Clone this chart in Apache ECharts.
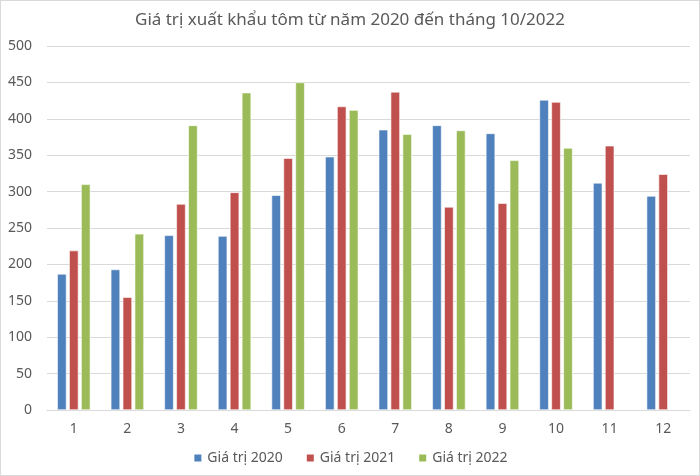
<!DOCTYPE html>
<html><head><meta charset="utf-8">
<script src="https://cdn.jsdelivr.net/npm/echarts@6/dist/echarts.min.js"></script>
<style>html,body{margin:0;padding:0;background:#fff}#c{width:700px;height:476px;box-sizing:border-box;border:1px solid #d9d9d9}</style>
</head><body><div id="c"></div>
<script>
var categories = ['1','2','3','4','5','6','7','8','9','10','11','12'];
var v2020 = [187,193,240,239,295,348,385,391,380,426,312,294];
var v2021 = [219,155,283,299,346,417,437,279,284,423,363,324];
var v2022 = [310,242,391,436,450,412,379,384,343,360,null,null];
var seriesNames = ['Giá trị 2020','Giá trị 2021','Giá trị 2022'];
var colors = ['#4F81BD','#C0504D','#9BBB59'];
var font = '"Noto Sans", "Open Sans", sans-serif';
var chart = echarts.init(document.getElementById('c'));
function mk(name, data, color){
  return {name:name, type:'bar', data:data, barGap:'28%', barCategoryGap:'38%',
    itemStyle:{color:color, borderColor:'#ffffff', borderWidth:0.6}};
}
chart.setOption({
  animation:false,
  color:colors,
  textStyle:{fontFamily:font},
  title:{text:'Giá trị xuất khẩu tôm từ năm 2020 đến tháng 10/2022', left:'center', top:6,
    textStyle:{fontFamily:font, fontSize:17, fontWeight:'normal', color:'#595959'}},
  legend:{bottom:5, itemWidth:9, itemHeight:9, itemGap:22, icon:'rect',
    textStyle:{fontFamily:font, fontSize:14, color:'#595959'}},
  grid:{left:46, right:9, top:45, bottom:65},
  xAxis:{type:'category', data:categories,
    axisLine:{lineStyle:{color:'#d9d9d9'}}, axisTick:{show:false},
    axisLabel:{color:'#595959', fontSize:14, margin:12, fontFamily:font}},
  yAxis:{type:'value', min:0, max:500, interval:50,
    axisLine:{show:false}, axisTick:{show:false},
    splitLine:{lineStyle:{color:'#d9d9d9'}},
    axisLabel:{color:'#595959', fontSize:14, margin:15, fontFamily:font}},
  series:[mk(seriesNames[0], v2020, colors[0]), mk(seriesNames[1], v2021, colors[1]), mk(seriesNames[2], v2022, colors[2])]
});
</script></body></html>
